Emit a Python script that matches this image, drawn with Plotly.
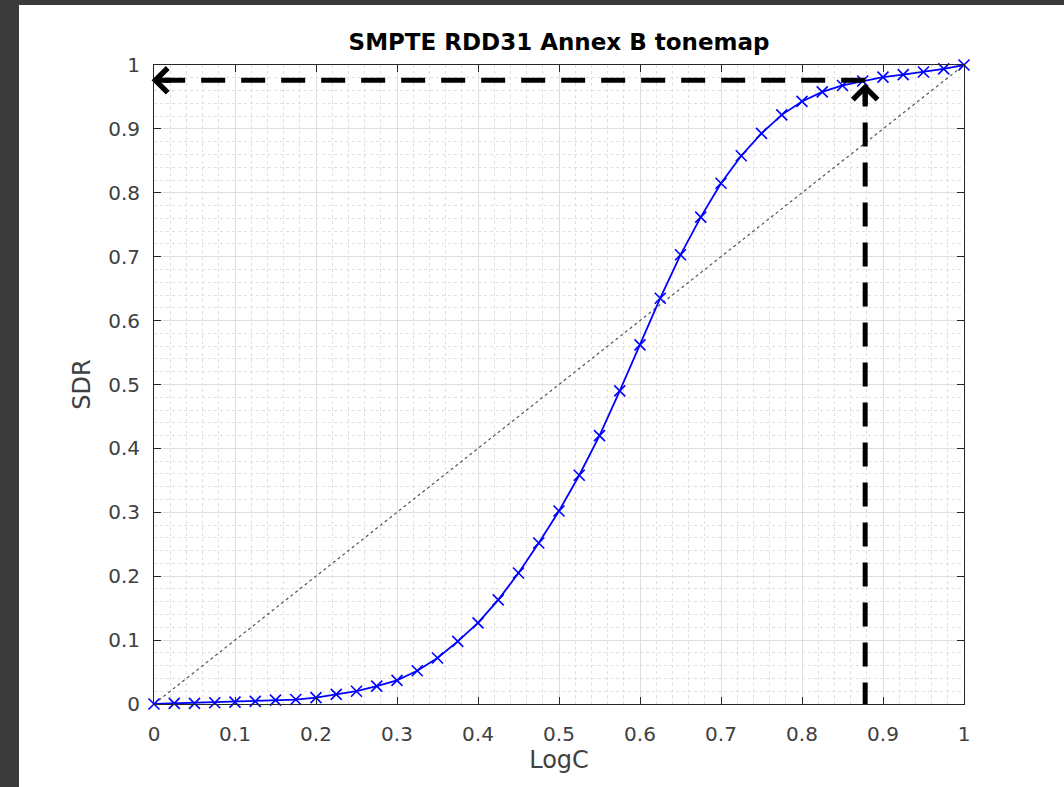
import plotly.graph_objects as go

# tonemap samples
logc = [i * 0.025 for i in range(41)]
sdr = [0.0, 0.001, 0.001, 0.002, 0.003, 0.004, 0.006, 0.007, 0.010, 0.015,
       0.020, 0.028, 0.037, 0.052, 0.072, 0.098, 0.127, 0.163, 0.205, 0.252,
       0.302, 0.358, 0.420, 0.490, 0.562, 0.635, 0.703, 0.762, 0.815, 0.858,
       0.893, 0.922, 0.943, 0.958, 0.968, 0.975, 0.981, 0.985, 0.989, 0.994,
       1.0]

# identity reference
diag_x = [0, 1]
diag_y = [0, 1]

# marked operating point
mark_x = 0.878
mark_y = 0.976

tick_vals = [round(i * 0.1, 1) for i in range(11)]
tick_text = ['0'] + [str(v) for v in tick_vals[1:-1]] + ['1']

FONT = 'DejaVu Sans'

fig = go.Figure()

fig.add_trace(go.Scatter(x=diag_x, y=diag_y, mode='lines',
                         line=dict(color='#555555', width=1.2, dash='dot'),
                         hoverinfo='skip', showlegend=False))

fig.add_trace(go.Scatter(x=logc, y=sdr, mode='lines+markers',
                         line=dict(color='#0000ff', width=1.8),
                         marker=dict(symbol='x-thin', size=11, color='#0000ff',
                                     line=dict(color='#0000ff', width=1.6)),
                         cliponaxis=False, showlegend=False))

# dashed guide lines
fig.add_trace(go.Scatter(x=[mark_x, 0.012], y=[mark_y, mark_y], mode='lines',
                         line=dict(color='black', width=5, dash='24px,16px'),
                         showlegend=False, hoverinfo='skip'))
fig.add_trace(go.Scatter(x=[mark_x, mark_x], y=[-0.004, mark_y - 0.02], mode='lines',
                         line=dict(color='black', width=5, dash='24px,16px'),
                         cliponaxis=False, showlegend=False, hoverinfo='skip'))

# arrowheads
fig.add_annotation(x=-0.003, y=mark_y, ax=0.022, ay=mark_y, axref='x', ayref='y',
                   xref='x', yref='y', text='', showarrow=True,
                   arrowhead=4, arrowsize=0.95, arrowwidth=5, arrowcolor='black')
fig.add_annotation(x=mark_x, y=mark_y - 0.005, ax=mark_x, ay=mark_y - 0.04,
                   axref='x', ayref='y', xref='x', yref='y', text='',
                   showarrow=True, arrowhead=4, arrowsize=0.95, arrowwidth=5,
                   arrowcolor='black')

axis_common = dict(
    range=[0, 1], tickvals=tick_vals, ticktext=tick_text,
    showline=True, linecolor='#262626', linewidth=1, mirror='ticks',
    ticks='inside', ticklen=7, tickcolor='#262626',
    showgrid=True, gridcolor='#dedede', gridwidth=1,
    minor=dict(dtick=0.02, showgrid=True, gridcolor='#e0e0e0',
               griddash='3px,3px', gridwidth=1, ticks=''),
    zeroline=False,
    tickfont=dict(family=FONT, size=20, color='#404040'),
)

fig.update_xaxes(**axis_common, ticklabelstandoff=12,
                 title=dict(text='LogC', standoff=6,
                            font=dict(family=FONT, size=24, color='#404040')))
fig.update_yaxes(**axis_common, ticklabelstandoff=9,
                 title=dict(text='SDR', standoff=10,
                            font=dict(family=FONT, size=24, color='#404040')))

# dark frame at left and top of the screenshot
fig.add_shape(type='rect', xref='paper', yref='paper',
              x0=-154 / 810 - 0.01, x1=-135 / 810, y0=-0.2, y1=1.2,
              fillcolor='#3b3b3b', line=dict(width=0), layer='above')
fig.add_shape(type='rect', xref='paper', yref='paper',
              x0=-0.3, x1=1.3, y0=(704 - 5) / 639, y1=1.2,
              fillcolor='#3b3b3b', line=dict(width=0), layer='above')

fig.update_layout(
    width=1064, height=787,
    margin=dict(l=154, r=100, t=65, b=83),
    paper_bgcolor='white', plot_bgcolor='white',
    title=dict(text='<b>SMPTE RDD31 Annex B tonemap</b>', x=559 / 1064,
               xanchor='center', y=1 - 42 / 787, yanchor='middle',
               font=dict(family=FONT, size=23, color='black')),
)

fig.write_html('out.html', config={'displayModeBar': False},
               post_script="document.body.style.margin='0';")
